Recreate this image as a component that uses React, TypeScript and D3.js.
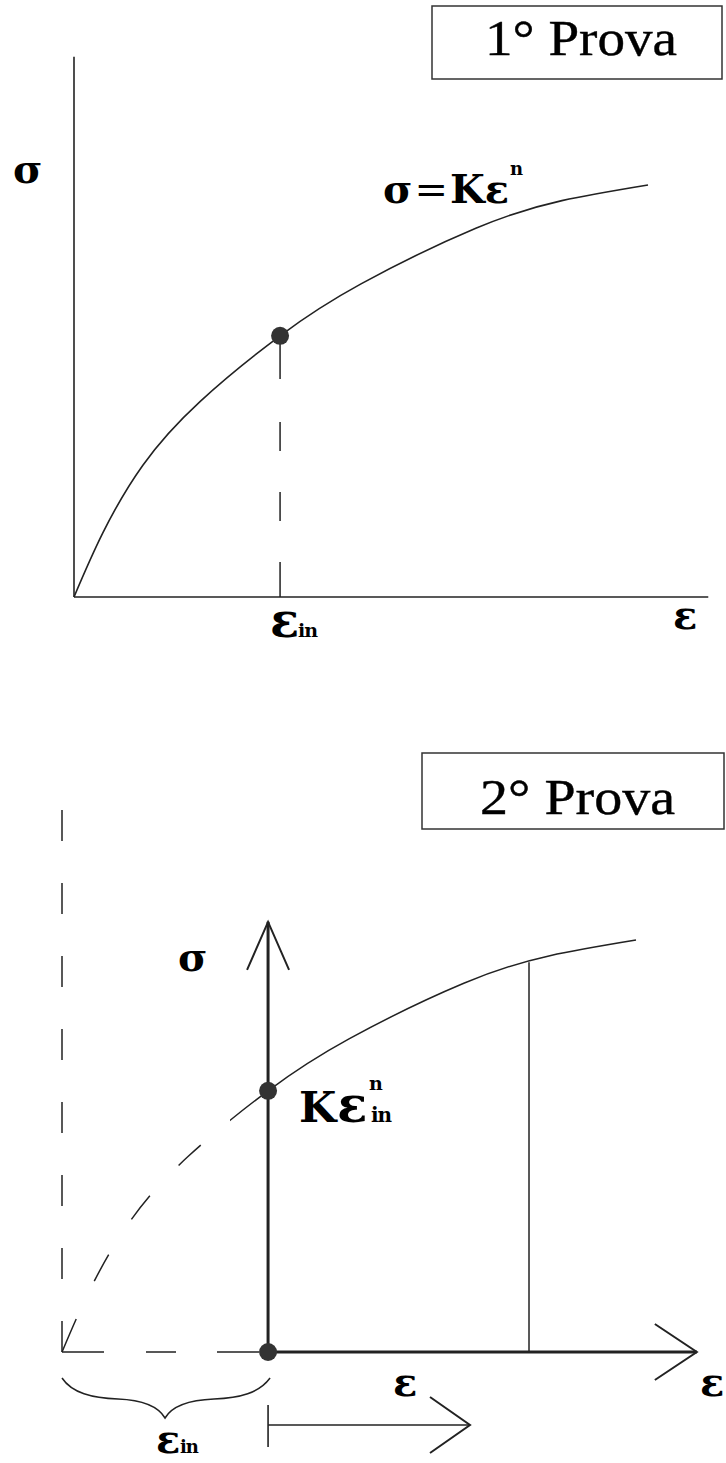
import React from "react";
import * as d3 from "d3";

// Normalized flow curve (strain -> stress)
const strainPts = [0, 0.05, 0.12, 0.22, 0.359, 0.5, 0.7, 0.85, 1.0];
const stressPts = [0, 0.155, 0.32, 0.475, 0.634, 0.76, 0.895, 0.962, 1.0];

const titles = ["1° Prova", "2° Prova"];
const epsIn = 0.359; // strain at end of 1st test
const epsMark = 0.8136; // vertical marker in 2nd test
const dashedUntil = 0.2927; // prior (virtual) part of curve in 2nd test
const topAxisMax = { eps: 1.105, sig: 1.311 };
const botAxisMax = { eps: 1.106, sig: 1.044, guide: 1.325 };

const INK = "#222";
const DOT = "#333";
const SYM = "'DejaVu Serif', serif";
const ROMAN = "'Liberation Serif', 'Times New Roman', serif";

const curvePts: [number, number][] = strainPts.map((e, i) => [e, stressPts[i]]);
const sigmaAt = d3.scaleLinear<number>().domain(strainPts).range(stressPts);

function makeLine(x: d3.ScaleLinear<number, number>, y: d3.ScaleLinear<number, number>) {
  return d3
    .line<[number, number]>()
    .x((d) => x(d[0]))
    .y((d) => y(d[1]))
    .curve(d3.curveNatural)(curvePts) as string;
}

function Arrow({ x1, y1, x2, y2, len, half, w }: { x1: number; y1: number; x2: number; y2: number; len: number; half: number; w: number }) {
  const a = Math.atan2(y2 - y1, x2 - x1);
  const bx = x2 - len * Math.cos(a);
  const by = y2 - len * Math.sin(a);
  const px = -Math.sin(a) * half;
  const py = Math.cos(a) * half;
  return (
    <g stroke={INK} strokeWidth={w} fill="none" strokeLinecap="butt">
      <line x1={x1} y1={y1} x2={x2} y2={y2} />
      <polyline points={`${bx + px},${by + py} ${x2},${y2} ${bx - px},${by - py}`} strokeWidth={2} />
    </g>
  );
}

export default function App() {
  // Panel 1
  const x1 = d3.scaleLinear().domain([0, 1]).range([74, 648]);
  const y1 = d3.scaleLinear().domain([0, 1]).range([597, 185]);
  // Panel 2
  const x2 = d3.scaleLinear().domain([0, 1]).range([62, 636]);
  const y2 = d3.scaleLinear().domain([0, 1]).range([1352, 940]);

  const sigIn = sigmaAt(epsIn);
  const sigMark = sigmaAt(epsMark);
  const path1 = makeLine(x1, y1);
  const path2 = makeLine(x2, y2);
  const split = x2(dashedUntil);

  return (
    <svg
      width={726}
      height={1463}
      viewBox="0 0 726 1463"
      style={{ position: "absolute", left: 0, top: 0, background: "#fff" }}
    >
      <defs>
        <clipPath id="dashPart">
          <rect x={0} y={800} width={split} height={600} />
        </clipPath>
        <clipPath id="solidPart">
          <rect x={split} y={800} width={726 - split} height={600} />
        </clipPath>
      </defs>

      {/* ===== Panel 1 ===== */}
      <rect x={432} y={6} width={290} height={73} fill="none" stroke="#333" strokeWidth={1.5} />
      <text x={485} y={55} fontFamily={ROMAN} fontSize={51} fill="#000" textLength={192} lengthAdjust="spacingAndGlyphs" stroke="#000" strokeWidth={0.4}>
        {titles[0]}
      </text>

      <line x1={x1(0)} y1={y1(0)} x2={x1(0)} y2={y1(topAxisMax.sig)} stroke={INK} strokeWidth={1.6} />
      <line x1={x1(0)} y1={y1(0)} x2={x1(topAxisMax.eps)} y2={y1(0)} stroke={INK} strokeWidth={1.6} />
      <path d={path1} fill="none" stroke={INK} strokeWidth={1.6} />
      <line
        x1={x1(epsIn)}
        y1={y1(0)}
        x2={x1(epsIn)}
        y2={y1(sigIn)}
        stroke={INK}
        strokeWidth={1.5}
        strokeDasharray="35 41 29 41 29 43 60"
      />
      <circle cx={x1(epsIn)} cy={y1(sigIn)} r={9} fill={DOT} />

      <text x={13} y={183} fontFamily={SYM} fontWeight="bold" fontSize={40} fill="#000">σ</text>
      <text x={383} y={203} fontFamily={SYM} fontWeight="bold" fontSize={40} fill="#000">
        <tspan>σ</tspan>
        <tspan fontWeight="normal" dx={2}>=</tspan>
        <tspan dx={2}>Kε</tspan>
      </text>
      <text x={510} y={175} fontFamily={SYM} fontWeight="bold" fontSize={18} fill="#000">n</text>

      <text x={270} y={637} fontFamily={SYM} fontWeight="bold" fontSize={48} fill="#000">ε</text>
      <text x={298} y={637} fontFamily={SYM} fontWeight="bold" fontSize={19} fill="#000" letterSpacing={-1}>in</text>
      <text x={673} y={629} fontFamily={SYM} fontWeight="bold" fontSize={40} fill="#000">ε</text>

      {/* ===== Panel 2 ===== */}
      <rect x={422} y={753} width={302} height={76} fill="none" stroke="#333" strokeWidth={1.5} />
      <text x={480} y={814} fontFamily={ROMAN} fontSize={51} fill="#000" textLength={195} lengthAdjust="spacingAndGlyphs" stroke="#000" strokeWidth={0.4}>
        {titles[1]}
      </text>

      {/* virtual origin guides */}
      <line
        x1={x2(0)}
        y1={y2(0)}
        x2={x2(0)}
        y2={y2(botAxisMax.guide)}
        stroke={INK}
        strokeWidth={1.5}
        strokeDasharray="31 42"
      />
      <line
        x1={x2(0)}
        y1={y2(0)}
        x2={x2(epsIn)}
        y2={y2(0)}
        stroke={INK}
        strokeWidth={1.5}
        strokeDasharray="42 42 30 41"
      />
      <path d={path2} fill="none" stroke={INK} strokeWidth={1.5} clipPath="url(#dashPart)" strokeDasharray="36 42 30 42 30 42 30 42" />
      <path d={path2} fill="none" stroke={INK} strokeWidth={1.5} clipPath="url(#solidPart)" />

      <line x1={x2(epsMark)} y1={y2(0)} x2={x2(epsMark)} y2={y2(sigMark)} stroke={INK} strokeWidth={1.5} />

      <Arrow x1={x2(epsIn)} y1={y2(0)} x2={x2(epsIn)} y2={y2(botAxisMax.sig)} len={48} half={21} w={3} />
      <Arrow x1={x2(epsIn)} y1={y2(0)} x2={x2(botAxisMax.eps)} y2={y2(0)} len={42} half={28} w={3} />

      <circle cx={x2(epsIn)} cy={y2(sigIn)} r={9} fill={DOT} />
      <circle cx={x2(epsIn)} cy={y2(0)} r={9} fill={DOT} />

      <text x={178} y={971} fontFamily={SYM} fontWeight="bold" fontSize={40} fill="#000">σ</text>
      <text x={299} y={1122} fontFamily={SYM} fontWeight="bold" fontSize={43} fill="#000">K</text>
      <text x={337} y={1122} fontFamily={SYM} fontWeight="bold" fontSize={50} fill="#000">ε</text>
      <text x={371} y={1122} fontFamily={SYM} fontWeight="bold" fontSize={20} fill="#000" letterSpacing={-1}>in</text>
      <text x={369} y={1090} fontFamily={SYM} fontWeight="bold" fontSize={19} fill="#000">n</text>

      <text x={393} y={1396} fontFamily={SYM} fontWeight="bold" fontSize={40} fill="#000">ε</text>
      <text x={700} y={1396} fontFamily={SYM} fontWeight="bold" fontSize={40} fill="#000">ε</text>

      {/* brace under the pre-strain */}
      <path
        d={`M${x2(0)},1378 C72,1393 92,1398 118,1399 C142,1400 158,1406 ${(x2(0) + x2(epsIn)) / 2},1418 C172,1406 190,1400 214,1399 C240,1398 259,1393 ${x2(epsIn) + 2},1378`}
        fill="none"
        stroke={INK}
        strokeWidth={1.5}
      />
      <text x={156} y={1453} fontFamily={SYM} fontWeight="bold" fontSize={40} fill="#000">ε</text>
      <text x={180} y={1453} fontFamily={SYM} fontWeight="bold" fontSize={18} fill="#000" letterSpacing={-1}>in</text>

      {/* strain increment arrow */}
      <line x1={x2(epsIn)} y1={1405} x2={x2(epsIn)} y2={1447} stroke={INK} strokeWidth={1.6} />
      <Arrow x1={x2(epsIn)} y1={1425} x2={470} y2={1425} len={40} half={28} w={1.6} />
    </svg>
  );
}
